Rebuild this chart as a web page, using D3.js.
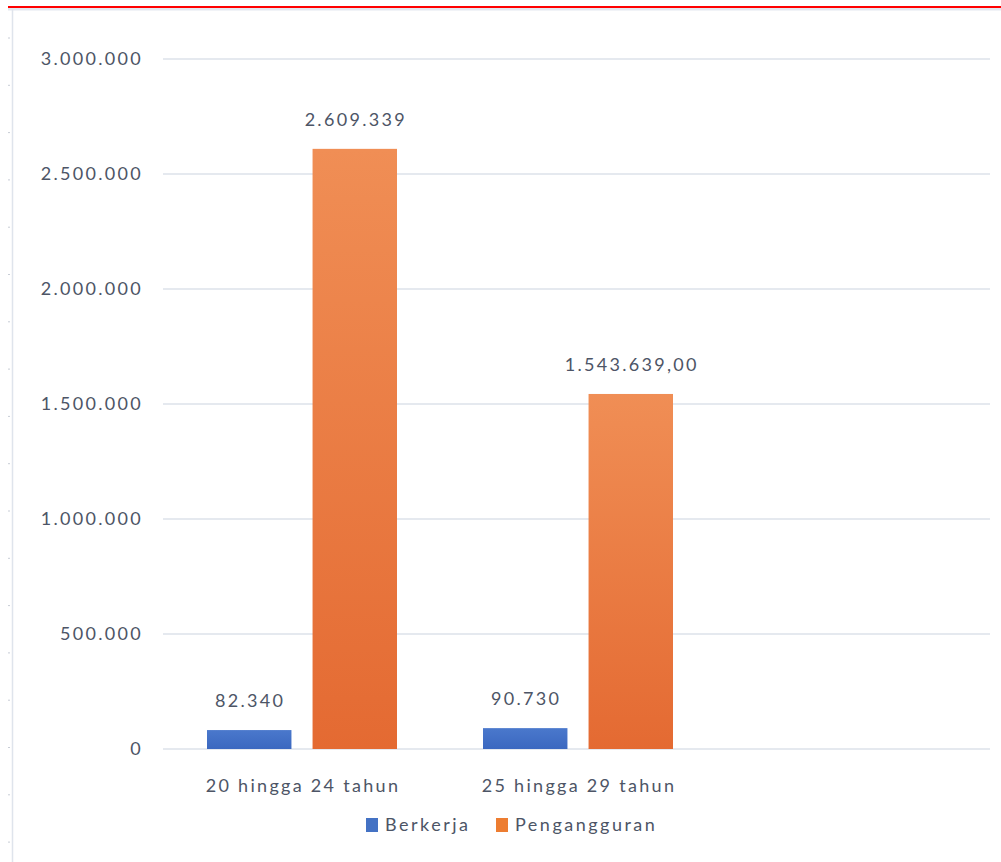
<!DOCTYPE html>
<html>
<head>
<meta charset="utf-8">
<script src="https://cdn.jsdelivr.net/npm/d3@7"></script>
<style>
  body { margin: 0; background: #fff; }
  svg text { font-family: Lato, "Open Sans", sans-serif; fill: #4d5566; }
</style>
</head>
<body>
<svg id="chart" width="1001" height="862"></svg>
<script>
// data
const categories = ["20 hingga 24 tahun", "25 hingga 29 tahun", ""];
const seriesNames = ["Berkerja", "Pengangguran"];
const berkerja = [82340, 90730, null];
const pengangguran = [2609339, 1543639, null];
const berkerjaLabels = ["82.340", "90.730", ""];
const penganggurLabels = ["2.609.339", "1.543.639,00", ""];
const yTicks = [0, 500000, 1000000, 1500000, 2000000, 2500000, 3000000];
const yTickLabels = ["0", "500.000", "1.000.000", "1.500.000", "2.000.000", "2.500.000", "3.000.000"];

const svg = d3.select("#chart");
const width = +svg.attr("width");
const height = +svg.attr("height");
const margin = { top: 59, right: 9, bottom: 113, left: 164 };
const spacing = "2.3px";

// page frame: red line, left border and ruler marks
svg.append("line")
    .attr("x1", 8).attr("x2", width)
    .attr("y1", 9).attr("y2", 9)
    .attr("stroke", "#e3e7ef").attr("stroke-width", 3);
svg.append("line")
    .attr("x1", 8).attr("x2", width)
    .attr("y1", 7).attr("y2", 7)
    .attr("stroke", "#ff0000").attr("stroke-width", 2);
svg.append("line")
    .attr("x1", 12.5).attr("x2", 12.5)
    .attr("y1", 9).attr("y2", height)
    .attr("stroke", "#dfe4ec").attr("stroke-width", 1.5);
svg.append("g")
    .selectAll("line")
    .data(d3.range(38, height, 47.3))
    .join("line")
    .attr("x1", 8).attr("x2", 10)
    .attr("y1", d => d).attr("y2", d => d)
    .attr("stroke", "#c8cdd6").attr("stroke-width", 1);

// gradients
const defs = svg.append("defs");
function grad(id, top, bottom) {
    const g = defs.append("linearGradient")
        .attr("id", id)
        .attr("x1", 0).attr("x2", 0).attr("y1", 0).attr("y2", 1);
    g.append("stop").attr("offset", "0%").attr("stop-color", top);
    g.append("stop").attr("offset", "100%").attr("stop-color", bottom);
}
grad("gBlue", "#4a78cc", "#3b68c0");
grad("gOrange", "#f08e55", "#e46a32");

const x0 = d3.scaleBand()
    .domain(categories.map((d, i) => i))
    .range([margin.left, width - margin.right]);

const x1 = d3.scaleBand()
    .domain(seriesNames)
    .range([43, x0.bandwidth() - 43])
    .paddingInner(0.2);

const y = d3.scaleLinear()
    .domain([0, 3000000])
    .range([height - margin.bottom, margin.top]);

// gridlines
svg.append("g")
    .selectAll("line")
    .data(yTicks)
    .join("line")
    .attr("x1", 163).attr("x2", width - 11)
    .attr("y1", d => y(d)).attr("y2", d => y(d))
    .attr("stroke", "#dde2ea").attr("stroke-width", 1.5);

// y labels
svg.append("g")
    .selectAll("text")
    .data(yTicks)
    .join("text")
    .attr("x", 143)
    .attr("y", d => y(d))
    .attr("dy", "0.36em")
    .attr("text-anchor", "end")
    .style("font-size", "18px")
    .style("letter-spacing", spacing)
    .text((d, i) => yTickLabels[i]);

// bars
const rows = categories.map((c, i) => ({
    i,
    values: [
        { key: seriesNames[0], value: berkerja[i], label: berkerjaLabels[i], fill: "url(#gBlue)" },
        { key: seriesNames[1], value: pengangguran[i], label: penganggurLabels[i], fill: "url(#gOrange)" }
    ].filter(d => d.value != null)
}));

const groups = svg.append("g")
    .selectAll("g")
    .data(rows)
    .join("g")
    .attr("transform", d => `translate(${x0(d.i)},0)`);

groups.selectAll("rect")
    .data(d => d.values)
    .join("rect")
    .attr("x", d => x1(d.key))
    .attr("y", d => y(d.value))
    .attr("width", x1.bandwidth())
    .attr("height", d => y(0) - y(d.value))
    .attr("fill", d => d.fill);

groups.selectAll("text")
    .data(d => d.values)
    .join("text")
    .attr("x", d => x1(d.key) + x1.bandwidth() / 2 + 1)
    .attr("y", d => y(d.value) - 23)
    .attr("text-anchor", "middle")
    .style("font-size", "18px")
    .style("letter-spacing", spacing)
    .text(d => d.label);

// category labels
svg.append("g")
    .selectAll("text")
    .data(categories)
    .join("text")
    .attr("x", (d, i) => x0(i) + x0.bandwidth() / 2 + 1)
    .attr("y", 792)
    .attr("text-anchor", "middle")
    .style("font-size", "18px")
    .style("letter-spacing", spacing)
    .text(d => d);

// legend
const legend = svg.append("g")
    .attr("transform", "translate(366, 825)");
const legendX = [0, 130];
const legendFill = ["#4472c4", "#ed7d31"];
seriesNames.forEach((name, i) => {
    legend.append("rect")
        .attr("x", legendX[i]).attr("y", -7)
        .attr("width", 12).attr("height", 14)
        .attr("fill", legendFill[i]);
    legend.append("text")
        .attr("x", legendX[i] + 19)
        .attr("y", 0)
        .attr("dy", "0.36em")
        .style("font-size", "18px")
        .style("letter-spacing", "2.5px")
        .text(name);
});
</script>
</body>
</html>
